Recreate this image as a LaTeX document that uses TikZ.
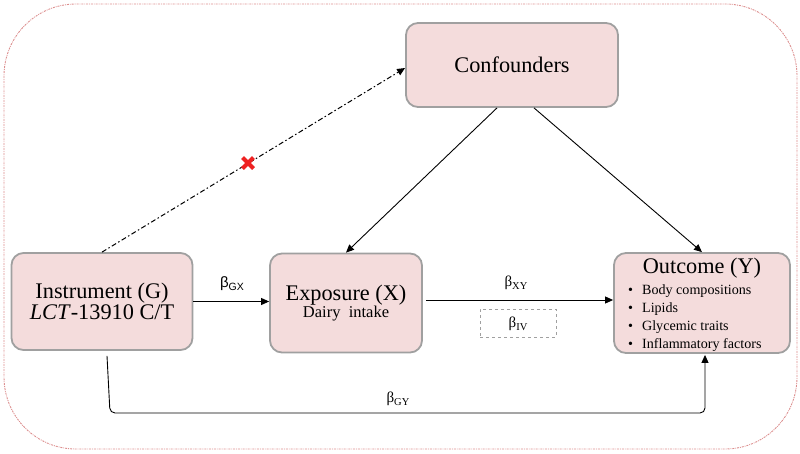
\documentclass[tikz,border=0pt]{standalone}
\usepackage{fontspec}
\setmainfont{Liberation Serif}
\newfontfamily\sansf{Liberation Sans}
\usetikzlibrary{arrows.meta,calc}
\definecolor{boxfill}{HTML}{F4DCDC}
\definecolor{boxline}{HTML}{A0A0A0}
\definecolor{outerline}{HTML}{DC8E8E}
\definecolor{xred}{HTML}{EE2222}
\tikzset{
  mrbox/.style={draw=boxline,line width=1.8pt,fill=boxfill,rounded corners=12pt,inner sep=0pt,align=center},
  arr/.style={line width=0.9pt,-{Triangle[length=8pt,width=7pt]}},
  blab/.style={inner sep=0pt,font=\fontsize{15}{18}\selectfont}
}
\newcommand{\sbx}[1]{\raisebox{-2.5pt}{\fontsize{10.5}{12}\selectfont #1}}
\begin{document}
\begin{tikzpicture}[x=1pt,y=-1pt]
\useasboundingbox (0,0) rectangle (800,453);
\draw[outerline,line width=0.9pt,rounded corners=72pt,dash pattern=on 2pt off 1pt on 0.8pt off 1pt] (4,4) rectangle (797,449);

\node[mrbox,minimum width=212pt,minimum height=84pt,font=\fontsize{22.3}{26}\selectfont] (conf) at (512,65) {Confounders};
\node[mrbox,minimum width=181pt,minimum height=97pt] (ins) at (102,301.5) {{\fontsize{22.3}{26}\selectfont Instrument (G)}\\[0pt]{\fontsize{22.3}{26}\selectfont\textit{LCT}-13910 C/T}};
\node[mrbox,minimum width=152pt,minimum height=99pt] (exp) at (346,303) {{\fontsize{22.3}{24}\selectfont Exposure (X)}\\[-1pt]{\fontsize{16.5}{18}\selectfont Dairy\ \ intake}};
\node[mrbox,minimum width=176pt,minimum height=100pt] (out) at (702,303) {};
\node[inner sep=0pt,font=\fontsize{22.3}{24}\selectfont] (outt) at (702,268) {Outcome (Y)};
\node[inner sep=0pt,anchor=west,align=left,font=\fontsize{14.1}{18}\selectfont] (outl) at (628,318.5) {\textbullet\hspace{9pt}Body compositions\\\textbullet\hspace{9pt}Lipids\\\textbullet\hspace{9pt}Glycemic traits\\\textbullet\hspace{9pt}Inflammatory factors};

\node[draw=boxline,dashed,line width=0.9pt,minimum width=76pt,minimum height=28pt,inner sep=0pt] (iv) at (518,323) {};
\node[blab] (biv) at (518,324) {β\sbx{IV}};

\node[blab] (bgx) at (232,284) {{\sansf β}\sbx{\sansf GX}};
\node[blab] (bxy) at (516,283) {β\sbx{XY}};
\node[blab] (bgy) at (398,399) {β\sbx{GY}};

\draw[arr] (ins.east) -- (ins.east -| exp.west);
\draw[arr] ($(exp.east)+(3,-3)$) -- ($(exp.east -| out.west)+(0,-3)$);
\draw[arr] ($(conf.south)+(-15,0)$) -- (exp.north);
\draw[arr] ($(conf.south)+(22,0)$) -- (out.north);
\draw[line width=1pt,dash pattern=on 5pt off 2.5pt on 1.5pt off 2.5pt,-{Triangle[length=8pt,width=7pt]}] (ins.north) -- ($(conf.west)+(0,3)$);

\coordinate (gy1) at (110,413);
\coordinate (gy2) at (705,413);
\draw[arr,rounded corners=5pt] ($(ins.south)+(5,5)$) -- (gy1) -- (gy2) -- ($(out.south)+(3,1)$);

\coordinate (xmark) at (248,163);
\draw[xred,line width=4pt] ($(xmark)+(-5.5,-5.5)$) -- ($(xmark)+(5.5,5.5)$) ($(xmark)+(-5.5,5.5)$) -- ($(xmark)+(5.5,-5.5)$);
\end{tikzpicture}
\end{document}
